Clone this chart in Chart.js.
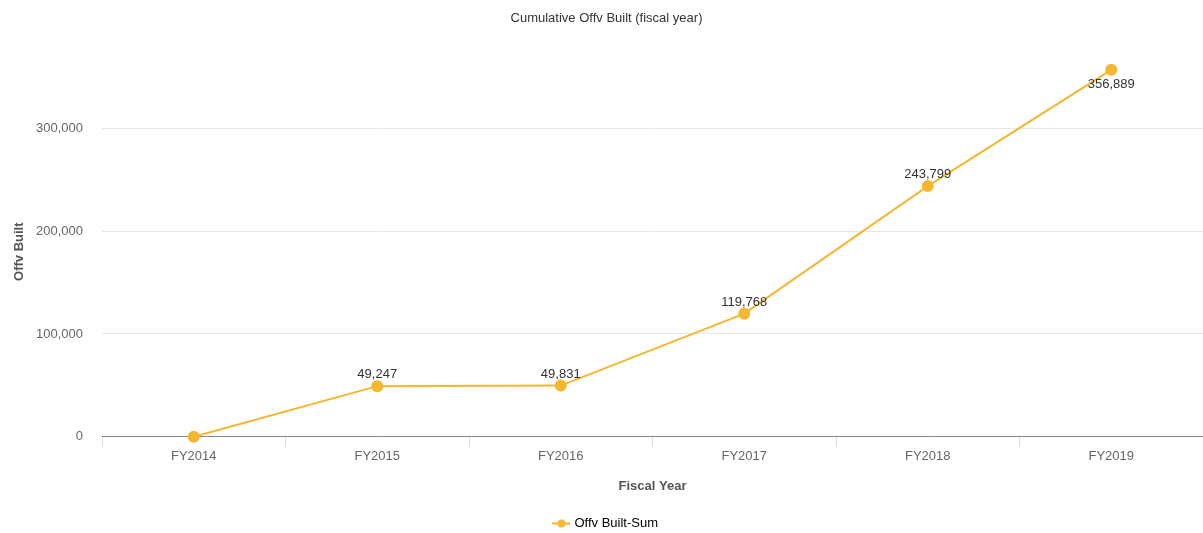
<!DOCTYPE html>
<html>
<head>
<meta charset="utf-8">
<title>Cumulative Offv Built</title>
<script src="https://cdn.jsdelivr.net/npm/chart.js@4/dist/chart.umd.min.js"></script>
<style>
  html, body { margin: 0; padding: 0; background: #fff; }
  #wrap { width: 1203px; height: 533px; position: relative; }
</style>
</head>
<body>
<div id="wrap"><canvas id="offvChart"></canvas></div>
<script>
// fiscal years and cumulative totals
const fiscalYears = ['FY2014', 'FY2015', 'FY2016', 'FY2017', 'FY2018', 'FY2019'];
const offvBuiltSum = [0, 49247, 49831, 119768, 243799, 356889];
const yTickValues = [0, 100000, 200000, 300000];

const lineColor = '#f4b72f';
const fontFamily = '"Liberation Sans", Arial, sans-serif';

// small line + dot marker for the legend entry
function legendMarker() {
    const c = document.createElement('canvas');
    c.width = 18; c.height = 10;
    const g = c.getContext('2d');
    g.strokeStyle = lineColor;
    g.lineWidth = 2;
    g.beginPath(); g.moveTo(0, 5); g.lineTo(18, 5); g.stroke();
    g.fillStyle = lineColor;
    g.beginPath(); g.arc(9, 5, 4, 0, Math.PI * 2); g.fill();
    return c;
}

// value labels above each point (below when near the top)
const valueLabels = {
    id: 'valueLabels',
    afterDatasetsDraw(chart) {
        const ctx = chart.ctx;
        const meta = chart.getDatasetMeta(0);
        ctx.save();
        ctx.font = '13px ' + fontFamily;
        ctx.fillStyle = '#333';
        ctx.textAlign = 'center';
        meta.data.forEach((pt, i) => {
            const v = offvBuiltSum[i];
            if (!v) return;
            const text = v.toLocaleString('en-US');
            if (pt.y - chart.chartArea.top < 20) {
                ctx.textBaseline = 'top';
                ctx.fillText(text, pt.x, pt.y + 8);
            } else {
                ctx.textBaseline = 'bottom';
                ctx.fillText(text, pt.x, pt.y - 5);
            }
        });
        ctx.restore();
    }
};

new Chart(document.getElementById('offvChart'), {
    type: 'line',
    data: {
        labels: fiscalYears,
        datasets: [{
            label: 'Offv Built-Sum',
            data: offvBuiltSum,
            borderColor: lineColor,
            backgroundColor: lineColor,
            borderWidth: 2,
            pointRadius: 5,
            pointHoverRadius: 6,
            tension: 0,
            clip: false
        }]
    },
    options: {
        responsive: true,
        maintainAspectRatio: false,
        animation: false,
        layout: { autoPadding: false, padding: { top: 0, right: 0, bottom: -7, left: 10 } },
        plugins: {
            title: {
                display: true,
                text: 'Cumulative Offv Built (fiscal year)',
                color: '#333',
                font: { family: fontFamily, size: 13, weight: 'normal' },
                padding: { top: 11, bottom: 40 }
            },
            legend: {
                position: 'bottom',
                labels: {
                    color: '#333',
                    font: { family: fontFamily, size: 13 },
                    usePointStyle: true,
                    padding: 6,
                    generateLabels(chart) {
                        const ds = chart.data.datasets[0];
                        return [{
                            text: ds.label,
                            pointStyle: legendMarker(),
                            fillStyle: lineColor,
                            strokeStyle: lineColor,
                            lineWidth: 0,
                            datasetIndex: 0,
                            hidden: false
                        }];
                    }
                }
            },
            tooltip: { enabled: true }
        },
        scales: {
            x: {
                offset: true,
                grid: {
                    offset: true,
                    drawOnChartArea: false,
                    drawTicks: true,
                    tickLength: 10,
                    color: '#ddd'
                },
                border: { color: '#888', width: 1 },
                ticks: {
                    color: '#666',
                    font: { family: fontFamily, size: 13 },
                    padding: 2
                },
                title: {
                    display: true,
                    text: 'Fiscal Year',
                    color: '#555',
                    font: { family: fontFamily, size: 13, weight: 'bold' },
                    padding: { top: 12, bottom: 17 }
                }
            },
            y: {
                min: 0,
                max: 360000,
                afterBuildTicks(scale) {
                    scale.ticks = yTickValues.map(v => ({ value: v }));
                },
                // fixed axis width so the plot starts where the labels need it
                afterFit(scale) {
                    scale.width = 92;
                },
                grid: {
                    color: '#e6e6e6',
                    drawTicks: false
                },
                border: { display: false },
                ticks: {
                    color: '#666',
                    font: { family: fontFamily, size: 13 },
                    padding: 19,
                    callback: v => v.toLocaleString('en-US')
                },
                title: {
                    display: true,
                    text: 'Offv Built',
                    color: '#555',
                    font: { family: fontFamily, size: 13, weight: 'bold' },
                    padding: { top: 2, bottom: 8 }
                }
            }
        }
    },
    plugins: [valueLabels]
});
</script>
</body>
</html>
